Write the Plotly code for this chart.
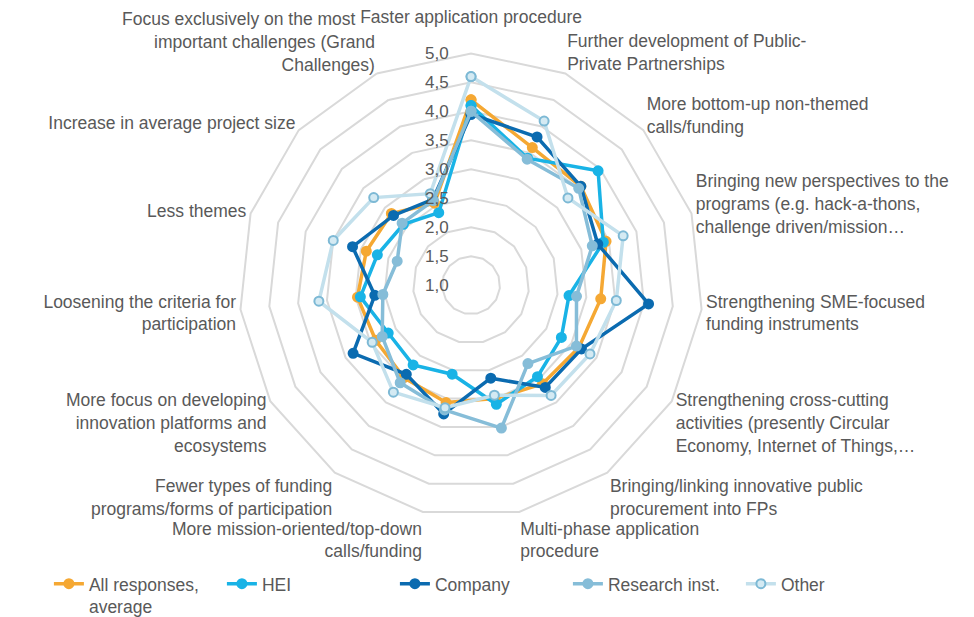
import plotly.graph_objects as go

categories = [
    "Faster application procedure<br>\u00a0",
    "Further development of Public-<br>Private Partnerships",
    "More bottom-up non-themed<br>calls/funding",
    "Bringing new perspectives to the<br>programs (e.g. hack-a-thons,<br>challenge driven/mission…",
    "Strengthening SME-focused<br>funding instruments",
    "Strengthening cross-cutting<br>activities (presently Circular<br>Economy, Internet of Things,…",
    "Bringing/linking innovative public<br>procurement into FPs",
    "Multi-phase application<br>procedure",
    "More mission-oriented/top-down<br>calls/funding",
    "Fewer types of funding<br>programs/forms of participation",
    "More focus on developing<br>innovation platforms and<br>ecosystems",
    "Loosening the criteria for<br>participation",
    "Less themes",
    "Increase in average project size",
    "Focus exclusively on the most\u00a0\u00a0\u00a0\u00a0<br>important challenges (Grand<br>Challenges)",
]

avg = [4.2, 3.6, 3.55, 3.45, 3.25, 3.15, 3.1, 3.0, 3.07, 2.97, 2.9, 2.97, 2.9, 2.85, 2.55]
hei = [4.1, 3.4, 3.95, 3.4, 2.7, 2.8, 2.95, 3.1, 2.57, 2.7, 2.65, 2.92, 2.7, 2.57, 2.37]
company = [3.95, 3.8, 3.55, 3.3, 4.08, 3.2, 3.18, 2.64, 3.27, 2.9, 3.35, 2.67, 3.15, 2.8, 2.62]
research = [4.0, 3.38, 3.5, 3.2, 2.83, 3.1, 2.67, 3.52, 3.2, 3.08, 2.77, 2.53, 2.34, 2.6, 2.6]
other = [4.6, 4.1, 3.25, 3.76, 3.52, 3.37, 3.35, 2.94, 3.16, 3.28, 2.97, 3.64, 3.5, 3.26, 2.73]

radial_ticks = [1.0, 1.5, 2.0, 2.5, 3.0, 3.5, 4.0, 4.5, 5.0]

# name, values, line colour, marker fill, marker outline
series = [
    ("All responses,<br>average", avg, "#F5A833", "#F5A833", "#F5A833"),
    ("HEI", hei, "#19B3E6", "#19B3E6", "#19B3E6"),
    ("Company", company, "#0B6BB0", "#0B6BB0", "#0B6BB0"),
    ("Research inst.", research, "#86BDD8", "#86BDD8", "#86BDD8"),
    ("Other", other, "#C3E0EC", "#D4EAF3", "#7DB9D5"),
]

fig = go.Figure()
for name, vals, color, fill, edge in series:
    fig.add_trace(go.Scatterpolar(
        r=vals + vals[:1],
        theta=categories + categories[:1],
        name=name,
        mode="lines+markers",
        line=dict(color=color, width=3.5),
        marker=dict(size=9, color=fill, line=dict(color=edge, width=2)),
    ))

grey = "#D9D9D9"
fig.update_layout(
    width=974,
    height=617,
    margin=dict(l=0, r=0, t=0, b=0),
    paper_bgcolor="white",
    separators=",.",
    font=dict(family="Liberation Sans, Arial, sans-serif", size=17, color="#595959"),
    polar=dict(
        domain=dict(x=[0.229, 0.7218], y=[0.1459, 0.9238]),
        bgcolor="white",
        gridshape="linear",
        radialaxis=dict(
            range=[1, 5],
            tickvals=radial_ticks,
            tickformat=".1f",
            angle=90,
            tickangle=90,
            side="counterclockwise",
            showline=False,
            ticks="outside",
            ticklen=16,
            tickcolor="rgba(0,0,0,0)",
            gridcolor=grey,
            gridwidth=2,
            tickfont=dict(size=17, color="#595959"),
        ),
        angularaxis=dict(
            direction="clockwise",
            rotation=90,
            showgrid=False,
            showline=True,
            linecolor=grey,
            linewidth=2,
            ticks="",
            tickfont=dict(size=17.5, color="#595959"),
        ),
    ),
    legend=dict(
        orientation="h",
        x=0.042,
        y=0.064,
        xanchor="left",
        yanchor="top",
        valign="top",
        entrywidth=128,
        font=dict(size=17.5, color="#595959"),
    ),
)

fig.write_html("out.html")
